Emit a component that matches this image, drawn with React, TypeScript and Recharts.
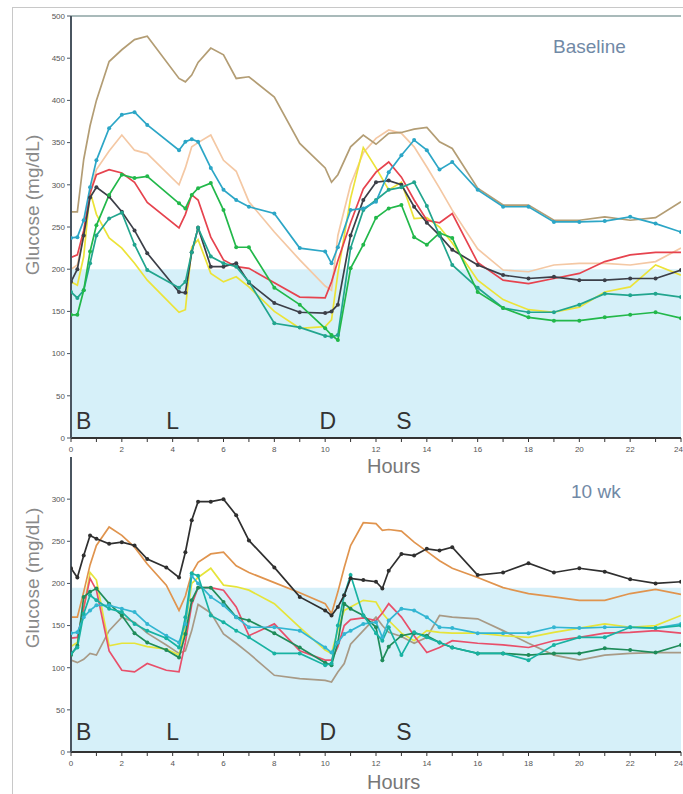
import {
  LineChart,
  Line,
  XAxis,
  YAxis,
  ReferenceArea,
  ReferenceLine,
  ReferenceDot,
} from 'recharts';

// Hourly CGM traces, baseline vs. 10 weeks.
const HOUR_TICKS = Array.from({ length: 25 }, (_, i) => i);
const MEALS = ['B', 'L', 'D', 'S'];
const MEAL_HOURS = [0.5, 4, 10.1, 13.1];

const TOP_HOURS = [0, 0.25, 0.5, 0.75, 1, 1.5, 2, 2.5, 3, 4.25, 4.5, 4.75, 5, 5.5, 6, 6.5, 7, 8, 9, 10, 10.25, 10.5, 11, 11.5, 12, 12.5, 13, 13.5, 14, 14.5, 15, 16, 17, 18, 19, 20, 21, 22, 23, 24];
const topTan = [268, 268, 330, 370, 400, 446, 460, 472, 476, 426, 422, 430, 445, 462, 454, 426, 428, 404, 349, 320, 303, 312, 345, 359, 348, 361, 362, 366, 368, 351, 343, 296, 276, 276, 258, 258, 262, 258, 261, 280];
const topCyan = [237, 238, 258, 297, 329, 367, 383, 386, 371, 341, 351, 354, 351, 320, 294, 282, 274, 266, 225, 221, 207, 226, 270, 272, 280, 315, 335, 353, 341, 318, 327, 294, 274, 274, 256, 256, 257, 262, 254, 244];
const topPeach = [200, 205, 240, 290, 318, 340, 359, 341, 337, 300, 320, 345, 350, 359, 329, 316, 280, 244, 211, 180, 175, 240, 300, 338, 355, 365, 361, 345, 321, 296, 270, 224, 199, 197, 205, 207, 207, 205, 209, 225];
const topRed = [214, 217, 246, 290, 312, 318, 314, 303, 279, 249, 265, 288, 282, 238, 211, 203, 201, 184, 167, 166, 185, 210, 255, 295, 315, 327, 309, 282, 258, 255, 266, 208, 187, 183, 189, 195, 209, 217, 220, 220];
const topGreen = [146, 146, 175, 221, 252, 288, 312, 308, 310, 278, 272, 288, 296, 302, 270, 226, 226, 178, 158, 130, 122, 116, 201, 229, 261, 272, 276, 238, 229, 243, 237, 173, 154, 143, 139, 139, 143, 146, 149, 142];
const topTeal = [173, 166, 175, 207, 240, 260, 267, 229, 199, 178, 185, 220, 249, 215, 207, 203, 185, 136, 131, 121, 120, 122, 225, 270, 282, 294, 297, 303, 275, 240, 205, 178, 154, 149, 149, 158, 171, 169, 171, 167];
const topBlack = [185, 200, 240, 285, 297, 286, 268, 246, 219, 173, 172, 220, 249, 203, 203, 207, 184, 160, 149, 148, 150, 158, 240, 282, 303, 305, 300, 274, 255, 240, 223, 205, 193, 189, 191, 187, 187, 189, 189, 199];
const topYellow = [185, 181, 215, 292, 265, 237, 225, 207, 187, 149, 152, 226, 235, 195, 185, 191, 179, 150, 130, 132, 140, 195, 284, 344, 320, 294, 303, 260, 261, 250, 231, 187, 164, 152, 149, 155, 173, 179, 205, 193];

const BOTTOM_HOURS = [0, 0.25, 0.5, 0.75, 1, 1.5, 2, 2.5, 3, 3.75, 4.25, 4.5, 4.75, 5, 5.5, 6, 6.5, 7, 8, 9, 10, 10.25, 10.5, 10.75, 11, 11.5, 12, 12.25, 12.5, 13, 13.5, 14, 14.5, 15, 16, 17, 18, 19, 20, 21, 22, 23, 24];
const wkBlack = [218, 207, 233, 257, 253, 247, 249, 245, 229, 219, 207, 237, 275, 297, 297, 300, 281, 251, 219, 184, 168, 162, 172, 186, 206, 204, 202, 194, 215, 235, 233, 241, 239, 243, 210, 213, 224, 213, 218, 214, 205, 200, 202];
const wkOrange = [160, 160, 190, 222, 245, 267, 257, 243, 223, 198, 168, 185, 212, 225, 235, 237, 221, 213, 201, 189, 176, 164, 190, 219, 245, 272, 271, 263, 264, 262, 249, 238, 227, 218, 207, 195, 188, 184, 180, 180, 188, 193, 187];
const wkYellow = [125, 130, 170, 213, 204, 126, 129, 129, 125, 122, 115, 150, 200, 207, 218, 198, 196, 192, 176, 148, 121, 117, 145, 168, 172, 180, 178, 165, 156, 141, 132, 144, 142, 141, 141, 138, 136, 142, 147, 152, 148, 150, 162];
const wkRed = [135, 136, 171, 206, 192, 120, 97, 95, 105, 97, 95, 130, 175, 195, 195, 192, 172, 138, 152, 120, 109, 109, 125, 150, 157, 159, 156, 165, 176, 160, 138, 118, 124, 132, 129, 127, 124, 132, 136, 141, 142, 144, 141];
const wkTan = [109, 106, 110, 117, 115, 144, 160, 154, 141, 127, 117, 120, 144, 175, 165, 140, 129, 117, 91, 87, 85, 83, 95, 105, 128, 144, 160, 150, 142, 137, 129, 136, 162, 160, 158, 144, 129, 115, 109, 115, 117, 118, 118];
const wkCyan = [141, 142, 160, 168, 174, 174, 170, 166, 152, 138, 130, 152, 209, 200, 184, 174, 160, 148, 148, 144, 124, 118, 130, 140, 144, 152, 154, 136, 156, 170, 168, 160, 148, 147, 141, 141, 141, 148, 147, 148, 148, 147, 152];
const wkTeal = [117, 124, 164, 186, 180, 170, 166, 152, 144, 135, 124, 160, 212, 209, 162, 154, 144, 136, 117, 117, 103, 105, 150, 186, 210, 162, 141, 132, 148, 115, 142, 136, 130, 124, 117, 117, 109, 127, 136, 136, 148, 147, 150];
const wkGreen = [115, 126, 184, 190, 194, 176, 162, 141, 130, 121, 112, 140, 180, 195, 195, 178, 160, 156, 141, 124, 106, 103, 130, 176, 170, 162, 148, 109, 125, 138, 141, 138, 130, 124, 117, 117, 115, 117, 117, 123, 121, 118, 127];

interface Series {
  key: string;
  values: number[];
  color: string;
  dots: boolean;
}

const TOP_SERIES: Series[] = [
  { key: 'peach', values: topPeach, color: '#f4c8a4', dots: false },
  { key: 'tan', values: topTan, color: '#b39d74', dots: false },
  { key: 'yellow', values: topYellow, color: '#ece338', dots: false },
  { key: 'red', values: topRed, color: '#e6434e', dots: false },
  { key: 'black', values: topBlack, color: '#3c3f48', dots: true },
  { key: 'teal', values: topTeal, color: '#22a58e', dots: true },
  { key: 'green', values: topGreen, color: '#22b84a', dots: true },
  { key: 'cyan', values: topCyan, color: '#2ca6c6', dots: true },
];

const BOTTOM_SERIES: Series[] = [
  { key: 'tan', values: wkTan, color: '#a89a86', dots: false },
  { key: 'yellow', values: wkYellow, color: '#e6e43a', dots: false },
  { key: 'red', values: wkRed, color: '#e84f6a', dots: false },
  { key: 'orange', values: wkOrange, color: '#e0944e', dots: false },
  { key: 'green', values: wkGreen, color: '#1f8c5a', dots: true },
  { key: 'cyan', values: wkCyan, color: '#33b6d2', dots: true },
  { key: 'teal', values: wkTeal, color: '#18b2a2', dots: true },
  { key: 'black', values: wkBlack, color: '#2f2f2f', dots: true },
];

const FONT = '"Liberation Sans", Arial, sans-serif';

// even hours get a label; the last one is pulled in so it stays on the page
function HourTick(props: any) {
  const { x, y, payload } = props;
  const v = payload.value as number;
  if (v % 2 !== 0) return <g />;
  const last = v === 24;
  return (
    <text
      x={last ? x + 2 : x}
      y={y}
      dy="0.71em"
      textAnchor={last ? 'end' : 'middle'}
      fontSize={8}
      fill="#555"
      fontFamily={FONT}
    >
      {v}
    </text>
  );
}

interface PanelProps {
  hours: number[];
  series: Series[];
  height: number;
  marginTop: number;
  yMax: number;
  yTicks: number[];
  shadeTop: number;
  mealY: number;
  topLine?: boolean;
}

function Panel({ hours, series, height, marginTop, yMax, yTicks, shadeTop, mealY, topLine }: PanelProps) {
  return (
    <LineChart
      width={683}
      height={height}
      margin={{ top: marginTop, right: 2, bottom: 0, left: 0 }}
    >
      <XAxis
        type="number"
        dataKey="h"
        domain={[0, 24]}
        ticks={HOUR_TICKS}
        interval={0}
        height={42}
        tickSize={4}
        tickMargin={4}
        axisLine={{ stroke: '#333', strokeWidth: 2 }}
        tickLine={{ stroke: '#333' }}
        tick={HourTick}
        allowDataOverflow
      />
      <YAxis
        type="number"
        domain={[0, yMax]}
        ticks={yTicks}
        interval={0}
        width={71}
        tickSize={4}
        tickMargin={2}
        axisLine={{ stroke: '#4a5560', strokeWidth: 2 }}
        tickLine={{ stroke: '#4a5560' }}
        tick={{ fontSize: 8, fill: '#555', fontFamily: FONT }}
        allowDataOverflow
      />
      <ReferenceArea x1={0} x2={24} y1={0} y2={shadeTop} fill="#d6f0f9" fillOpacity={1} stroke="none" />
      {topLine && <ReferenceLine y={yMax} stroke="#a9baba" strokeWidth={2} />}
      {series.map((s) => (
        <Line
          key={s.key}
          data={hours.map((h, i) => ({ h, v: s.values[i] }))}
          dataKey="v"
          type="linear"
          stroke={s.color}
          strokeWidth={1.7}
          dot={s.dots ? { r: 2, fill: s.color, stroke: s.color, strokeWidth: 0 } : false}
          activeDot={false}
          isAnimationActive={false}
        />
      ))}
      {MEALS.map((m, i) => (
        <ReferenceDot
          key={m}
          x={MEAL_HOURS[i]}
          y={mealY}
          r={0}
          fill="none"
          stroke="none"
          label={{ value: m, position: 'center', fontSize: 23, fill: '#333', fontFamily: FONT }}
        />
      ))}
    </LineChart>
  );
}

const textBase = { position: 'absolute' as const, fontFamily: FONT, whiteSpace: 'nowrap' as const };

export default function App() {
  return (
    <div style={{ position: 'absolute', left: 0, top: 0, width: 683, height: 794, background: '#fff', overflow: 'hidden' }}>
      <div
        style={{
          position: 'absolute',
          left: 12,
          top: 7,
          width: 671,
          height: 787,
          borderLeft: '1px solid #c8c8c8',
          borderTop: '1px solid #c8c8c8',
        }}
      />
      <div style={{ position: 'absolute', left: 0, top: 0 }}>
        <Panel
          hours={TOP_HOURS}
          series={TOP_SERIES}
          height={480}
          marginTop={16}
          yMax={500}
          yTicks={[0, 50, 100, 150, 200, 250, 300, 350, 400, 450, 500]}
          shadeTop={200}
          mealY={20}
          topLine
        />
      </div>
      <div style={{ position: 'absolute', left: 0, top: 440 }}>
        <Panel
          hours={BOTTOM_HOURS}
          series={BOTTOM_SERIES}
          height={354}
          marginTop={17}
          yMax={350}
          yTicks={[0, 50, 100, 150, 200, 250, 300]}
          shadeTop={195}
          mealY={24}
        />
      </div>
      <div style={{ ...textBase, left: 553, top: 36, fontSize: 19, color: '#7189a6' }}>Baseline</div>
      <div style={{ ...textBase, left: 571, top: 481, fontSize: 19, color: '#7189a6' }}>10 wk</div>
      <div style={{ ...textBase, left: 367, top: 455, fontSize: 20, color: '#777' }}>Hours</div>
      <div style={{ ...textBase, left: 367, top: 771, fontSize: 20, color: '#777' }}>Hours</div>
      <div
        style={{
          ...textBase,
          left: 33,
          top: 205,
          fontSize: 19,
          color: '#8a8a8a',
          transform: 'translate(-50%, -50%) rotate(-90deg)',
        }}
      >
        Glucose (mg/dL)
      </div>
      <div
        style={{
          ...textBase,
          left: 33,
          top: 578,
          fontSize: 19,
          color: '#8a8a8a',
          transform: 'translate(-50%, -50%) rotate(-90deg)',
        }}
      >
        Glucose (mg/dL)
      </div>
    </div>
  );
}
